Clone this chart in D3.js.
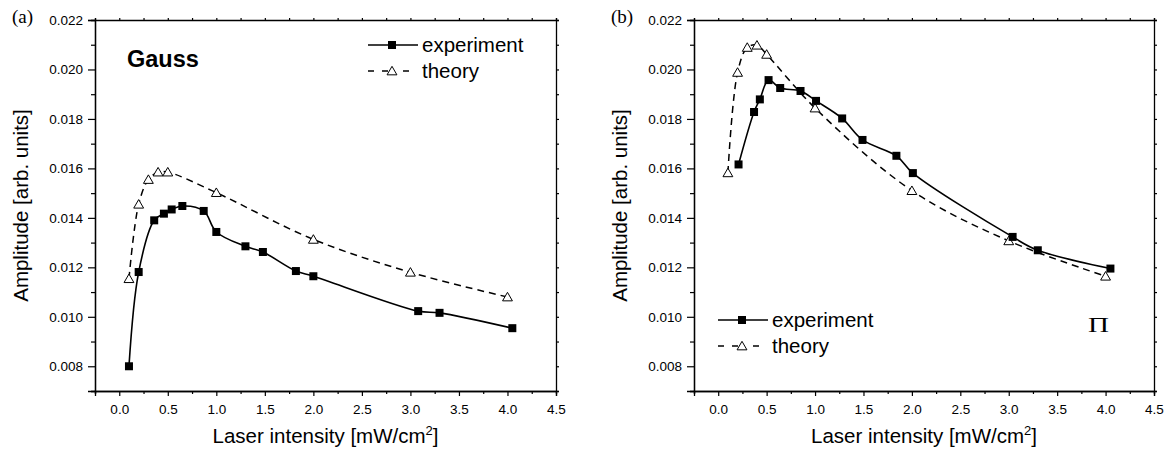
<!DOCTYPE html>
<html><head><meta charset="utf-8">
<script src="https://cdn.jsdelivr.net/npm/d3@7"></script>
<style>body{margin:0;background:#fff;} svg{display:block;} text{font-family:"Liberation Sans",Arial,sans-serif;fill:#000;}</style>
</head><body>
<svg id="chart" width="1169" height="450"></svg>
<script>
const gaussExpX = [0.10,0.20,0.36,0.46,0.54,0.65,0.87,1.00,1.30,1.48,1.82,2.00,3.08,3.30,4.05];
const gaussExpY = [0.0080,0.01181,0.0139,0.01417,0.01434,0.01448,0.01428,0.01343,0.01285,0.01262,0.01185,0.01164,0.01023,0.01016,0.00954];
const gaussThX = [0.1,0.2,0.3,0.4,0.5,1.0,2.0,3.0,4.0];
const gaussThY = [0.01154,0.01455,0.01555,0.01585,0.01585,0.01502,0.01313,0.0118,0.0108];
const piExpX = [0.21,0.37,0.43,0.52,0.64,0.85,1.01,1.28,1.49,1.84,2.01,3.04,3.30,4.05];
const piExpY = [0.01616,0.01828,0.01879,0.01957,0.01925,0.01913,0.01873,0.01802,0.01715,0.01651,0.01581,0.01323,0.01269,0.01195];
const piThX = [0.1,0.2,0.3,0.4,0.5,1.0,2.0,3.0,4.0];
const piThY = [0.01582,0.01988,0.02089,0.02098,0.02061,0.01844,0.0151,0.01307,0.01164];
const xMajorTicks = [0,0.5,1,1.5,2,2.5,3,3.5,4,4.5];
const xMinorTicks = [-0.25,0.25,0.75,1.25,1.75,2.25,2.75,3.25,3.75,4.25];
const yMajorTicks = [0.008,0.010,0.012,0.014,0.016,0.018,0.020,0.022];
const yMinorTicks = [0.007,0.009,0.011,0.013,0.015,0.017,0.019,0.021];
const seriesNames = ["experiment","theory"];
const xTitle = "Laser intensity [mW/cm";
const yTitle = "Amplitude [arb. units]";

const svg = d3.select("#chart");

function panel(o){
  const x = d3.scaleLinear().domain([-0.25,4.5]).range([o.left,o.right]);
  const y = d3.scaleLinear().domain([0.007,0.022]).range([391,20]);
  const g = svg.append("g");
  g.append("g").attr("transform","translate(0,391)")
    .call(d3.axisBottom(x).tickValues(xMajorTicks).tickSize(5).tickPadding(8).tickFormat(d3.format(".1f")));
  g.append("g").attr("transform","translate(0,391)")
    .call(d3.axisBottom(x).tickValues(xMinorTicks).tickSize(3).tickFormat(""));
  g.append("g").attr("transform",`translate(${o.left},0)`)
    .call(d3.axisLeft(y).tickValues(yMajorTicks).tickSize(7).tickPadding(5).tickFormat(d3.format(".3f")));
  g.append("g").attr("transform",`translate(${o.left},0)`)
    .call(d3.axisLeft(y).tickValues(yMinorTicks).tickSize(4).tickFormat(""));
  g.append("g").attr("transform","translate(0,20)")
    .call(d3.axisTop(x).tickValues(xMajorTicks.concat(xMinorTicks)).tickSize(2).tickFormat(""));
  g.append("g").attr("transform",`translate(${o.right},0)`)
    .call(d3.axisRight(y).tickValues(yMajorTicks.concat(yMinorTicks)).tickSize(3).tickFormat(""));
  g.selectAll(".domain").attr("stroke","#000").attr("stroke-width",1.3);
  g.selectAll(".tick line").attr("stroke","#000").attr("stroke-width",1.2);
  g.selectAll(".tick text").style("font-size","13.5px").style("font-family","'Liberation Sans',Arial,sans-serif");

  const line = d3.line().x(d=>x(d[0])).y(d=>y(d[1])).curve(d3.curveCatmullRom.alpha(0.5));
  const th = o.thX.map((v,i)=>[v,o.thY[i]]);
  const ex = o.exX.map((v,i)=>[v,o.exY[i]]);
  g.append("path").attr("d",line(th)).attr("fill","none").attr("stroke","#000").attr("stroke-width",1.5).attr("stroke-dasharray","7,5");
  g.append("path").attr("d",line(ex)).attr("fill","none").attr("stroke","#000").attr("stroke-width",1.6);
  const tri = d3.symbol().type(d3.symbolTriangle).size(42);
  g.selectAll(".tri").data(th).join("path").attr("d",tri)
    .attr("transform",d=>`translate(${x(d[0])},${y(d[1])+1})`)
    .attr("fill","#fff").attr("stroke","#000").attr("stroke-width",1);
  g.selectAll(".sq").data(ex).join("rect")
    .attr("x",d=>x(d[0])-4).attr("y",d=>y(d[1])-4).attr("width",8).attr("height",8).attr("fill","#000");

  const L = o.legend;
  g.append("line").attr("x1",L.x).attr("x2",L.x+50).attr("y1",L.y).attr("y2",L.y).attr("stroke","#000").attr("stroke-width",1.6);
  g.append("rect").attr("x",L.x+20).attr("y",L.y-4).attr("width",8).attr("height",8).attr("fill","#000");
  g.append("text").attr("x",L.x+54).attr("y",L.y+7).style("font-size","20.5px").text(seriesNames[0]);
  const ty = L.y+26;
  g.append("line").attr("x1",L.x).attr("x2",L.x+6).attr("y1",ty).attr("y2",ty).attr("stroke","#000").attr("stroke-width",1.5);
  g.append("line").attr("x1",L.x+14).attr("x2",L.x+20).attr("y1",ty).attr("y2",ty).attr("stroke","#000").attr("stroke-width",1.5);
  g.append("line").attr("x1",L.x+35).attr("x2",L.x+41).attr("y1",ty).attr("y2",ty).attr("stroke","#000").attr("stroke-width",1.5);
  g.append("path").attr("d",tri).attr("transform",`translate(${L.x+24},${ty+1})`).attr("fill","#fff").attr("stroke","#000");
  g.append("text").attr("x",L.x+54).attr("y",ty+7).style("font-size","20.5px").text(seriesNames[1]);

  const xt = g.append("text").attr("x",(o.left+o.right)/2).attr("y",443).attr("text-anchor","middle").style("font-size","20.5px");
  xt.append("tspan").text(xTitle);
  xt.append("tspan").attr("dy",-8).style("font-size","13px").text("2");
  xt.append("tspan").attr("dy",8).text("]");
  g.append("text").attr("transform",`translate(${o.left-67},205.5) rotate(-90)`).attr("text-anchor","middle").style("font-size","20.5px").text(yTitle);
  g.append("text").attr("x",o.left-83).attr("y",23).style("font-family","'Liberation Serif','Times New Roman',serif").style("font-size","19px").text(o.tag);
  return {g,x,y};
}

const a = panel({left:95,right:556,exX:gaussExpX,exY:gaussExpY,thX:gaussThX,thY:gaussThY,legend:{x:368,y:45},tag:"(a)"});
a.g.append("text").attr("x",127).attr("y",67).style("font-size","23.5px").style("font-weight","bold").text("Gauss");
const b = panel({left:694,right:1154,exX:piExpX,exY:piExpY,thX:piThX,thY:piThY,legend:{x:718,y:320},tag:"(b)"});
b.g.append("text").attr("x",1088).attr("y",332).attr("textLength",21).attr("lengthAdjust","spacingAndGlyphs")
  .style("font-family","'Liberation Serif','Times New Roman',serif").style("font-size","21px").text("Π");
</script>
</body></html>
